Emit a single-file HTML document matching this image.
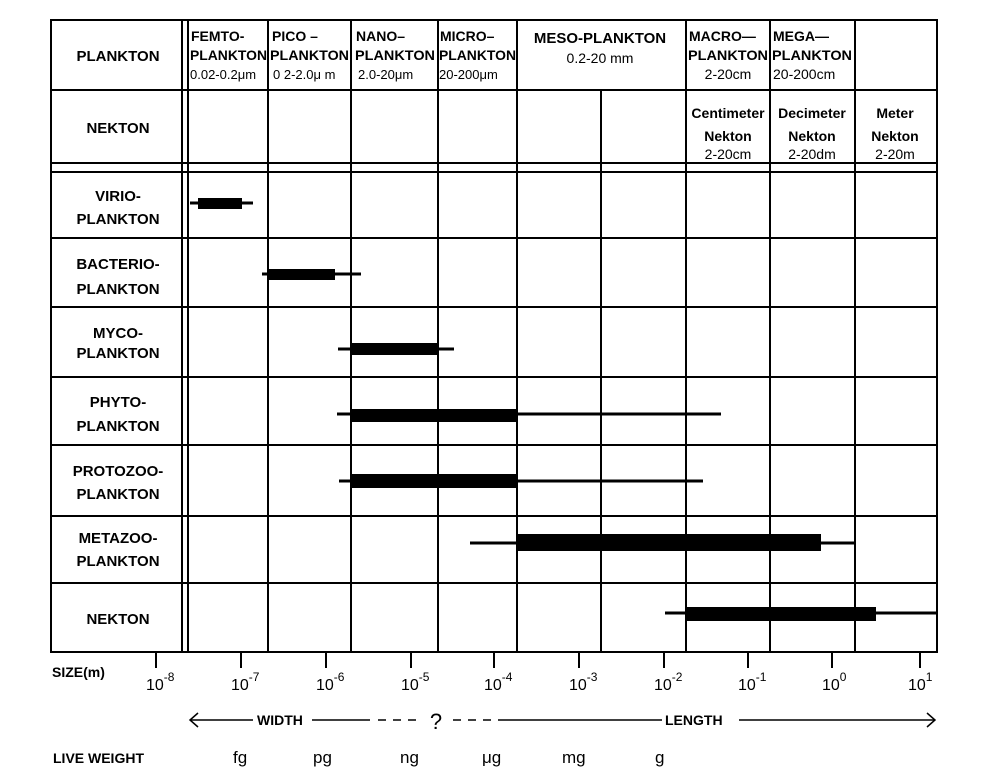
<!DOCTYPE html>
<html><head><meta charset="utf-8"><style>
html,body{margin:0;padding:0;background:#fff;}
svg{display:block;}
text{font-family:"Liberation Sans",sans-serif;fill:#000;}
.b{font-weight:bold;}
.n{font-weight:normal;}
</style></head><body>
<svg width="1000" height="772" viewBox="0 0 1000 772" xmlns="http://www.w3.org/2000/svg">
<g stroke="#000" stroke-width="2" fill="none">
<rect x="51" y="20" width="886" height="632"/>
<line x1="51" y1="90" x2="937" y2="90"/>
<line x1="51" y1="163" x2="937" y2="163"/>
<line x1="51" y1="172" x2="937" y2="172"/>
<line x1="51" y1="238" x2="937" y2="238"/>
<line x1="51" y1="307" x2="937" y2="307"/>
<line x1="51" y1="377" x2="937" y2="377"/>
<line x1="51" y1="445" x2="937" y2="445"/>
<line x1="51" y1="516" x2="937" y2="516"/>
<line x1="51" y1="583" x2="937" y2="583"/>
<line x1="182" y1="20" x2="182" y2="652"/>
<line x1="188" y1="20" x2="188" y2="652"/>
<line x1="268" y1="20" x2="268" y2="652"/>
<line x1="351" y1="20" x2="351" y2="652"/>
<line x1="438" y1="20" x2="438" y2="652"/>
<line x1="517" y1="20" x2="517" y2="652"/>
<line x1="601" y1="90" x2="601" y2="652"/>
<line x1="686" y1="20" x2="686" y2="652"/>
<line x1="770" y1="20" x2="770" y2="652"/>
<line x1="855" y1="20" x2="855" y2="652"/>
<line x1="156" y1="652" x2="156" y2="668"/>
<line x1="241" y1="652" x2="241" y2="668"/>
<line x1="326" y1="652" x2="326" y2="668"/>
<line x1="411" y1="652" x2="411" y2="668"/>
<line x1="494" y1="652" x2="494" y2="668"/>
<line x1="579" y1="652" x2="579" y2="668"/>
<line x1="664" y1="652" x2="664" y2="668"/>
<line x1="748" y1="652" x2="748" y2="668"/>
<line x1="832" y1="652" x2="832" y2="668"/>
<line x1="920" y1="652" x2="920" y2="668"/>
</g>
<g stroke="#000" stroke-width="3">
<line x1="190" y1="203" x2="253" y2="203"/>
<line x1="262" y1="274" x2="361" y2="274"/>
<line x1="338" y1="349" x2="454" y2="349"/>
<line x1="337" y1="414" x2="721" y2="414"/>
<line x1="339" y1="481" x2="703" y2="481"/>
<line x1="470" y1="543" x2="855" y2="543"/>
<line x1="665" y1="613" x2="937" y2="613"/>
</g>
<g fill="#000">
<rect x="198" y="198" width="44" height="11"/>
<rect x="268" y="269" width="67" height="11"/>
<rect x="351" y="343" width="88" height="12"/>
<rect x="351" y="409" width="166" height="13"/>
<rect x="351" y="474" width="166" height="14"/>
<rect x="517" y="534" width="304" height="17"/>
<rect x="686" y="607" width="190" height="14"/>
</g>
<g font-size="15" class="b">
<text class="b" x="118" y="61" text-anchor="middle">PLANKTON</text>
<text class="b" x="118" y="133" text-anchor="middle">NEKTON</text>
<text class="b" x="118" y="201" text-anchor="middle">VIRIO-</text>
<text class="b" x="118" y="224" text-anchor="middle">PLANKTON</text>
<text class="b" x="118" y="269" text-anchor="middle">BACTERIO-</text>
<text class="b" x="118" y="294" text-anchor="middle">PLANKTON</text>
<text class="b" x="118" y="338" text-anchor="middle">MYCO-</text>
<text class="b" x="118" y="358" text-anchor="middle">PLANKTON</text>
<text class="b" x="118" y="407" text-anchor="middle">PHYTO-</text>
<text class="b" x="118" y="431" text-anchor="middle">PLANKTON</text>
<text class="b" x="118" y="476" text-anchor="middle">PROTOZOO-</text>
<text class="b" x="118" y="499" text-anchor="middle">PLANKTON</text>
<text class="b" x="118" y="543" text-anchor="middle">METAZOO-</text>
<text class="b" x="118" y="566" text-anchor="middle">PLANKTON</text>
<text class="b" x="118" y="624" text-anchor="middle">NEKTON</text>
</g>
<g font-size="14">
<text class="b" x="191" y="41">FEMTO-</text>
<text class="b" x="190" y="60" textLength="77" lengthAdjust="spacingAndGlyphs">PLANKTON</text>
<text class="n" x="190" y="79" font-size="13">0.02-0.2μm</text>
<text class="b" x="272" y="41">PICO –</text>
<text class="b" x="270" y="60" textLength="79" lengthAdjust="spacingAndGlyphs">PLANKTON</text>
<text class="n" x="273" y="79" font-size="13">0 2-2.0μ m</text>
<text class="b" x="356" y="41">NANO–</text>
<text class="b" x="355" y="60" textLength="80" lengthAdjust="spacingAndGlyphs">PLANKTON</text>
<text class="n" x="358" y="79" font-size="13">2.0-20μm</text>
<text class="b" x="440" y="41">MICRO–</text>
<text class="b" x="439" y="60" textLength="77" lengthAdjust="spacingAndGlyphs">PLANKTON</text>
<text class="n" x="439" y="79" font-size="13">20-200μm</text>
<text class="b" x="600" y="43" text-anchor="middle" font-size="15">MESO-PLANKTON</text>
<text class="n" x="600" y="63" text-anchor="middle">0.2-20 mm</text>
<text class="b" x="689" y="41">MACRO—</text>
<text class="b" x="688" y="60" textLength="80" lengthAdjust="spacingAndGlyphs">PLANKTON</text>
<text class="n" x="728" y="79" text-anchor="middle">2-20cm</text>
<text class="b" x="773" y="41">MEGA—</text>
<text class="b" x="772" y="60" textLength="80" lengthAdjust="spacingAndGlyphs">PLANKTON</text>
<text class="n" x="773" y="79">20-200cm</text>
<text class="b" x="728" y="118" text-anchor="middle">Centimeter</text>
<text class="b" x="728" y="141" text-anchor="middle">Nekton</text>
<text class="n" x="728" y="159" text-anchor="middle">2-20cm</text>
<text class="b" x="812" y="118" text-anchor="middle">Decimeter</text>
<text class="b" x="812" y="141" text-anchor="middle">Nekton</text>
<text class="n" x="812" y="159" text-anchor="middle">2-20dm</text>
<text class="b" x="895" y="118" text-anchor="middle">Meter</text>
<text class="b" x="895" y="141" text-anchor="middle">Nekton</text>
<text class="n" x="895" y="159" text-anchor="middle">2-20m</text>
</g>
<g font-size="16">
<text class="b" x="52" y="677" font-size="14">SIZE(m)</text>
<text class="n" x="146" y="690">10<tspan dy="-9" font-size="12">-8</tspan></text>
<text class="n" x="231" y="690">10<tspan dy="-9" font-size="12">-7</tspan></text>
<text class="n" x="316" y="690">10<tspan dy="-9" font-size="12">-6</tspan></text>
<text class="n" x="401" y="690">10<tspan dy="-9" font-size="12">-5</tspan></text>
<text class="n" x="484" y="690">10<tspan dy="-9" font-size="12">-4</tspan></text>
<text class="n" x="569" y="690">10<tspan dy="-9" font-size="12">-3</tspan></text>
<text class="n" x="654" y="690">10<tspan dy="-9" font-size="12">-2</tspan></text>
<text class="n" x="738" y="690">10<tspan dy="-9" font-size="12">-1</tspan></text>
<text class="n" x="822" y="690">10<tspan dy="-9" font-size="12">0</tspan></text>
<text class="n" x="908" y="690">10<tspan dy="-9" font-size="12">1</tspan></text>
</g>
<g stroke="#000" stroke-width="1.5" fill="none">
<line x1="190" y1="720" x2="253" y2="720"/>
<line x1="312" y1="720" x2="370" y2="720"/>
<line x1="378" y1="720" x2="386" y2="720"/>
<line x1="393" y1="720" x2="401" y2="720"/>
<line x1="408" y1="720" x2="416" y2="720"/>
<line x1="453" y1="720" x2="461" y2="720"/>
<line x1="468" y1="720" x2="476" y2="720"/>
<line x1="483" y1="720" x2="491" y2="720"/>
<line x1="498" y1="720" x2="662" y2="720"/>
<line x1="739" y1="720" x2="935" y2="720"/>
<polyline points="198,713 190,720 198,727"/>
<polyline points="927,713 935,720 927,727"/>
</g>
<g font-size="14">
<text class="b" x="257" y="725">WIDTH</text>
<text class="n" x="436" y="729" text-anchor="middle" font-size="22">?</text>
<text class="b" x="665" y="725">LENGTH</text>
<text class="b" x="53" y="763">LIVE WEIGHT</text>
<text class="n" font-size="17" x="233" y="763">fg</text>
<text class="n" font-size="17" x="313" y="763">pg</text>
<text class="n" font-size="17" x="400" y="763">ng</text>
<text class="n" font-size="17" x="482" y="763">μg</text>
<text class="n" font-size="17" x="562" y="763">mg</text>
<text class="n" font-size="17" x="655" y="763">g</text>
</g>
</svg>
</body></html>
